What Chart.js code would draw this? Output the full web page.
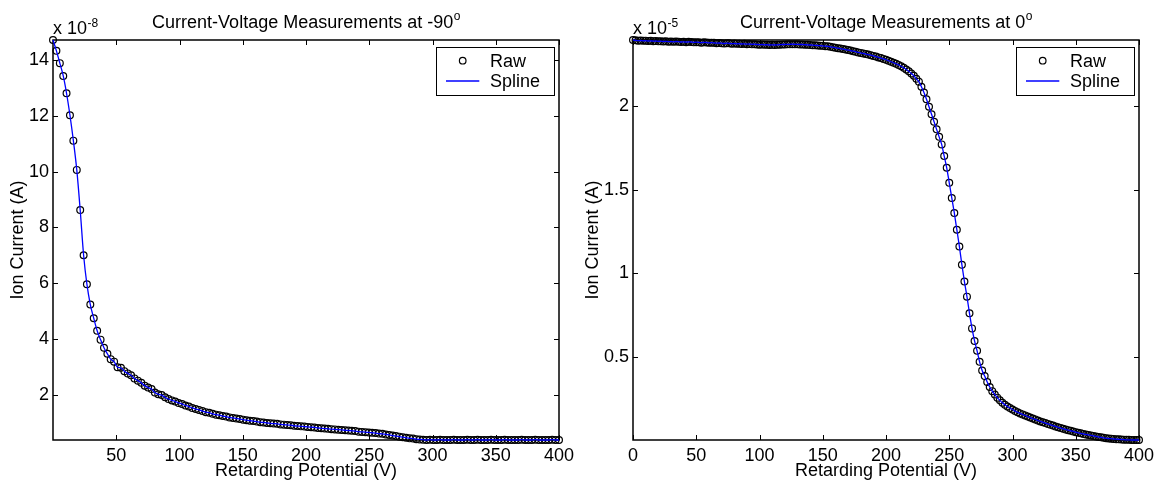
<!DOCTYPE html>
<html>
<head>
<meta charset="utf-8">
<script src="https://cdn.jsdelivr.net/npm/chart.js@4"></script>
<style>
body { margin: 0; background: #fff; }
.wrap { display: flex; width: 1160px; height: 483px; }
canvas { display: block; }
</style>
</head>
<body>
<div class="wrap">
  <canvas id="leftChart" width="580" height="483"></canvas>
  <canvas id="rightChart" width="580" height="483"></canvas>
</div>
<script>
// current-voltage sweep at -90 deg (current in units of 1e-8 A)
const voltsLeft = [0,2.7,5.4,8.1,10.7,13.4,16.1,18.8,21.5,24.2,
  26.8,29.5,32.2,34.9,37.6,40.3,43.0,45.6,48.3,51.0,
  53.7,56.4,59.1,61.7,64.4,67.1,69.8,72.5,75.2,77.9,
  80.5,83.2,85.9,88.6,91.3,94.0,96.6,99.3,102.0,104.7,
  107.4,110.1,112.8,115.4,118.1,120.8,123.5,126.2,128.9,131.5,
  134.2,136.9,139.6,142.3,145.0,147.7,150.3,153.0,155.7,158.4,
  161.1,163.8,166.4,169.1,171.8,174.5,177.2,179.9,182.6,185.2,
  187.9,190.6,193.3,196.0,198.7,201.3,204.0,206.7,209.4,212.1,
  214.8,217.4,220.1,222.8,225.5,228.2,230.9,233.6,236.2,238.9,
  241.6,244.3,247.0,249.7,252.3,255.0,257.7,260.4,263.1,265.8,
  268.5,271.1,273.8,276.5,279.2,281.9,284.6,287.2,289.9,292.6,
  295.3,298.0,300.7,303.4,306.0,308.7,311.4,314.1,316.8,319.5,
  322.1,324.8,327.5,330.2,332.9,335.6,338.3,340.9,343.6,346.3,
  349.0,351.7,354.4,357.0,359.7,362.4,365.1,367.8,370.5,373.2,
  375.8,378.5,381.2,383.9,386.6,389.3,391.9,394.6,397.3,400];
const currentLeft = [14.72,14.33,13.89,13.43,12.81,12.02,11.11,10.06,8.62,7.00,
  5.96,5.23,4.74,4.29,3.97,3.68,3.46,3.27,3.18,2.98,
  2.96,2.84,2.76,2.69,2.58,2.50,2.42,2.32,2.25,2.20,
  2.07,2.01,1.98,1.90,1.84,1.79,1.75,1.70,1.66,1.61,
  1.57,1.52,1.48,1.45,1.41,1.37,1.35,1.31,1.28,1.26,
  1.23,1.21,1.18,1.16,1.14,1.12,1.10,1.08,1.06,1.05,
  1.03,1.01,1.00,0.98,0.97,0.96,0.95,0.93,0.92,0.91,
  0.90,0.88,0.87,0.86,0.85,0.84,0.83,0.82,0.80,0.79,
  0.78,0.77,0.76,0.75,0.74,0.73,0.72,0.71,0.70,0.69,
  0.67,0.66,0.65,0.64,0.63,0.62,0.60,0.59,0.57,0.55,
  0.53,0.51,0.49,0.47,0.45,0.43,0.42,0.40,0.39,0.38,
  0.37,0.38,0.37,0.37,0.38,0.37,0.37,0.37,0.38,0.37,
  0.37,0.37,0.38,0.37,0.37,0.38,0.37,0.37,0.37,0.38,
  0.37,0.37,0.37,0.38,0.37,0.37,0.37,0.37,0.38,0.37,
  0.37,0.37,0.38,0.37,0.37,0.37,0.37,0.38,0.37,0.37];
const xTicksLeft = [50,100,150,200,250,300,350,400];
const yTicksLeft = [2,4,6,8,10,12,14];

// current-voltage sweep at 0 deg (current in units of 1e-5 A)
const voltsRight = [0,2,4,6,8,10,12,14,16,18,20,22,24,26,28,30,32,34,36,38,
  40,42,44,46,48,50,52,54,56,58,60,62,64,66,68,70,72,74,76,78,
  80,82,84,86,88,90,92,94,96,98,100,102,104,106,108,110,112,114,116,118,
  120,122,124,126,128,130,132,134,136,138,140,142,144,146,148,150,152,154,156,158,
  160,162,164,166,168,170,172,174,176,178,180,182,184,186,188,190,192,194,196,198,
  200,202,204,206,208,210,212,214,216,218,220,222,224,226,228,230,232,234,236,238,
  240,242,244,246,248,250,252,254,256,258,260,262,264,266,268,270,272,274,276,278,
  280,282,284,286,288,290,292,294,296,298,300,302,304,306,308,310,312,314,316,318,
  320,322,324,326,328,330,332,334,336,338,340,342,344,346,348,350,352,354,356,358,
  360,362,364,366,368,370,372,374,376,378,380,382,384,386,388,390,392,394,396,398,400];
const currentRight = [2.394,2.392,2.390,2.391,2.389,2.390,2.388,2.389,2.387,2.388,
  2.386,2.387,2.385,2.386,2.384,2.385,2.383,2.385,2.384,2.382,
  2.383,2.381,2.383,2.382,2.380,2.381,2.380,2.378,2.380,2.379,
  2.377,2.378,2.377,2.375,2.376,2.375,2.373,2.375,2.374,2.372,
  2.373,2.371,2.372,2.370,2.371,2.369,2.370,2.368,2.369,2.367,
  2.366,2.367,2.365,2.366,2.364,2.365,2.364,2.365,2.366,2.367,
  2.367,2.368,2.368,2.369,2.368,2.368,2.367,2.367,2.366,2.365,
  2.364,2.363,2.362,2.361,2.360,2.359,2.357,2.356,2.353,2.351,
  2.348,2.345,2.343,2.340,2.337,2.334,2.331,2.327,2.324,2.320,
  2.317,2.314,2.310,2.307,2.303,2.299,2.295,2.290,2.286,2.281,
  2.276,2.270,2.264,2.258,2.252,2.245,2.237,2.228,2.218,2.207,
  2.194,2.180,2.162,2.145,2.115,2.080,2.040,1.995,1.950,1.905,
  1.860,1.815,1.770,1.700,1.630,1.540,1.450,1.360,1.260,1.160,
  1.050,0.950,0.860,0.760,0.670,0.595,0.536,0.470,0.418,0.385,
  0.350,0.320,0.295,0.275,0.256,0.240,0.226,0.214,0.203,0.194,
  0.185,0.176,0.169,0.162,0.156,0.150,0.143,0.137,0.131,0.126,
  0.120,0.114,0.109,0.104,0.099,0.094,0.089,0.084,0.079,0.075,
  0.070,0.066,0.062,0.058,0.054,0.050,0.046,0.043,0.039,0.036,
  0.033,0.030,0.027,0.024,0.021,0.019,0.016,0.014,0.012,0.011,
  0.009,0.008,0.007,0.006,0.005,0.004,0.004,0.003,0.003,0.003,
  0.003];
const xTicksRight = [0,50,100,150,200,250,300,350,400];
const yTicksRight = [0.5,1,1.5,2];

const FONT = '"Liberation Sans", Arial, Helvetica, sans-serif';

// matlab look: boxed axes with inward ticks, title with superscript, exponent label, legend box
const matlabFrame = {
  id: 'matlabFrame',
  beforeDatasetsDraw(chart) {
    const ctx = chart.ctx;
    const a = chart.chartArea;
    const xs = chart.scales.x, ys = chart.scales.y;
    ctx.save();
    ctx.strokeStyle = '#000';
    ctx.lineWidth = 1;
    ctx.beginPath();
    xs.ticks.forEach(t => {
      const px = Math.round(xs.getPixelForValue(t.value)) + 0.5;
      ctx.moveTo(px, a.bottom); ctx.lineTo(px, a.bottom - 5);
      ctx.moveTo(px, a.top); ctx.lineTo(px, a.top + 5);
    });
    ys.ticks.forEach(t => {
      const py = Math.round(ys.getPixelForValue(t.value)) + 0.5;
      ctx.moveTo(a.left, py); ctx.lineTo(a.left + 5, py);
      ctx.moveTo(a.right, py); ctx.lineTo(a.right - 5, py);
    });
    ctx.stroke();
    ctx.lineWidth = 1.5;
    ctx.strokeRect(a.left, a.top, a.right - a.left, a.bottom - a.top);
    ctx.restore();
  },
  afterDraw(chart, args, opts) {
    const ctx = chart.ctx;
    const a = chart.chartArea;
    ctx.save();
    ctx.fillStyle = '#000';
    ctx.textBaseline = 'alphabetic';

    // title with superscript o
    ctx.font = '18px ' + FONT;
    const w1 = ctx.measureText(opts.title).width;
    ctx.font = '12px ' + FONT;
    const w2 = ctx.measureText('o').width;
    let tx = (a.left + a.right) / 2 - (w1 + w2) / 2;
    ctx.textAlign = 'left';
    ctx.font = '18px ' + FONT;
    ctx.fillText(opts.title, tx, 27.5);
    ctx.font = '12px ' + FONT;
    ctx.fillText('o', tx + w1 + 0.5, 20);

    // exponent label
    ctx.font = '18px ' + FONT;
    ctx.fillText('x 10', a.left, 34);
    const wx = ctx.measureText('x 10').width;
    ctx.font = '12px ' + FONT;
    ctx.fillText(opts.exponent, a.left + wx + 0.5, 26.5);

    // axis titles
    ctx.font = '18px ' + FONT;
    ctx.textAlign = 'center';
    ctx.fillText('Retarding Potential (V)', (a.left + a.right) / 2, 476);
    ctx.save();
    ctx.translate(opts.yTitleX, (a.top + a.bottom) / 2);
    ctx.rotate(-Math.PI / 2);
    ctx.textBaseline = 'middle';
    ctx.fillText('Ion Current (A)', 0, 0);
    ctx.restore();

    // legend
    const bx = a.right - 123, by = a.top + 6.7, bw = 117.5, bh = 47.5;
    ctx.fillStyle = '#fff';
    ctx.fillRect(bx, by, bw, bh);
    ctx.strokeStyle = '#000';
    ctx.lineWidth = 1;
    ctx.strokeRect(Math.round(bx) + 0.5, Math.round(by) + 0.5, Math.round(bw), Math.round(bh));
    ctx.beginPath();
    ctx.lineWidth = 1.2;
    ctx.arc(bx + 26.7, by + 14, 3.3, 0, Math.PI * 2);
    ctx.stroke();
    ctx.beginPath();
    ctx.strokeStyle = '#0000ff';
    ctx.lineWidth = 1.3;
    ctx.moveTo(bx + 10, by + 34.3);
    ctx.lineTo(bx + 43.3, by + 34.3);
    ctx.stroke();
    ctx.fillStyle = '#000';
    ctx.textAlign = 'left';
    ctx.font = '18px ' + FONT;
    ctx.fillText('Raw', bx + 54, by + 20);
    ctx.fillText('Spline', bx + 54, by + 40.6);
    ctx.restore();
  }
};

function makeChart(id, volts, current, xTicks, yTicks, yMin, yMax, xMin, frame) {
  const points = volts.map((v, i) => ({ x: v, y: current[i] }));
  return new Chart(id, {
    type: 'line',
    data: {
      datasets: [
        {
          label: 'Spline',
          data: points,
          borderColor: '#0000ff',
          borderWidth: 1.3,
          pointRadius: 0,
          cubicInterpolationMode: 'monotone',
          fill: false,
          clip: false
        },
        {
          label: 'Raw',
          data: points,
          showLine: false,
          pointStyle: 'circle',
          pointRadius: 3.4,
          pointBorderWidth: 1.2,
          pointBorderColor: '#000',
          pointBackgroundColor: 'rgba(0,0,0,0)',
          borderColor: '#000',
          clip: false
        }
      ]
    },
    options: {
      responsive: false,
      animation: false,
      devicePixelRatio: 1,
      layout: { padding: { top: 40, right: 21, left: 0, bottom: 0 } },
      plugins: {
        legend: { display: false },
        tooltip: { enabled: false },
        matlabFrame: frame
      },
      scales: {
        x: {
          type: 'linear',
          min: xMin,
          max: 400,
          grid: { display: false, drawTicks: false },
          border: { display: false },
          ticks: {
            color: '#000',
            font: { family: FONT, size: 18 },
            padding: 5,
            autoSkip: false,
            maxRotation: 0,
            callback: v => String(v)
          },
          afterBuildTicks: s => { s.ticks = xTicks.map(v => ({ value: v })); },
          afterFit: s => { s.height = 43; s.paddingLeft = 0; s.paddingRight = 0; }
        },
        y: {
          type: 'linear',
          min: yMin,
          max: yMax,
          grid: { display: false, drawTicks: false },
          border: { display: false },
          ticks: {
            color: '#000',
            font: { family: FONT, size: 18 },
            padding: 4,
            autoSkip: false,
            callback: v => String(v)
          },
          afterBuildTicks: s => { s.ticks = yTicks.map(v => ({ value: v })); },
          afterFit: s => { s.width = 53; s.paddingTop = 0; s.paddingBottom = 0; }
        }
      }
    },
    plugins: [matlabFrame]
  });
}

makeChart('leftChart', voltsLeft, currentLeft, xTicksLeft, yTicksLeft, 0.37, 14.72, 0,
  { title: 'Current-Voltage Measurements at -90', exponent: '-8', yTitleX: 18 });
makeChart('rightChart', voltsRight, currentRight, xTicksRight, yTicksRight, 0.003, 2.394, 0,
  { title: 'Current-Voltage Measurements at 0', exponent: '-5', yTitleX: 13 });
</script>
</body>
</html>
